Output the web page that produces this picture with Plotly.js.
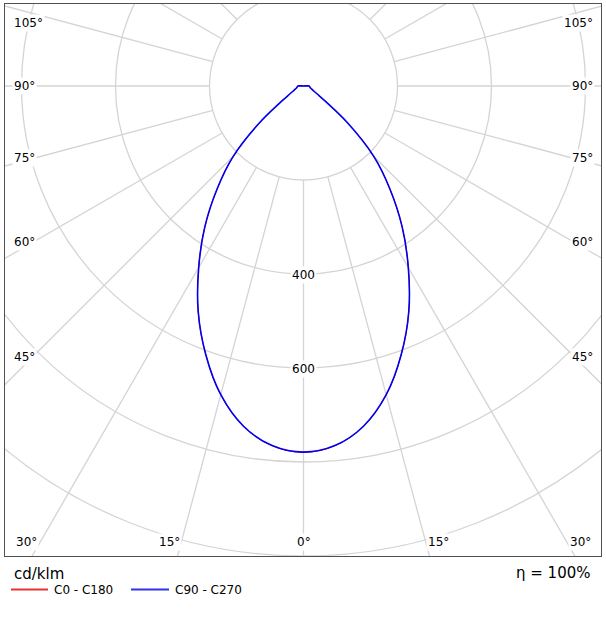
<!DOCTYPE html>
<html>
<head>
<meta charset="utf-8">
<script src="https://cdn.plot.ly/plotly-3.0.1.min.js"></script>
<style>
  html, body { margin: 0; padding: 0; background: #ffffff; }
  #chart { width: 606px; height: 621px; }
</style>
</head>
<body>
<div id="chart"></div>
<script>
// ---- data (cd/klm), gamma angles in degrees ----
const gammaAngles = [0, 5, 10, 15, 20, 25, 30, 35, 40, 45, 50, 55, 60, 65, 70, 75, 80, 85, 90, 95];
const c0c180  = [779, 768, 735, 680, 608, 530, 446, 366, 286, 211, 124, 58, 33, 23, 18, 15, 14, 13, 12, 0];
const c90c270 = [779, 768, 735, 680, 608, 530, 446, 366, 286, 211, 124, 58, 33, 23, 18, 15, 14, 13, 12, 0];
const radialTicks = [200, 400, 600, 800, 1000];
const radialLabels = ['400', '600'];
const sideAngleLabels = ['105°', '90°', '75°', '60°', '45°'];
const bottomAngleLabels = ['30°', '15°', '0°', '15°', '30°'];
const seriesNames = ['C0 - C180', 'C90 - C270'];
const unitLabel = 'cd/klm';
const efficiencyLabel = 'η = 100%';

// ---- geometry of the figure ----
const W = 606, H = 621;
const M = {l: 5, r: 5, t: 4, b: 65};
const plotW = W - M.l - M.r, plotH = H - M.t - M.b;
const cx = 303.5, cy = 86;        // pixel position of the polar origin
const k = 0.47;                  // px per cd/klm
const xr = [-(cx - M.l) / k, (W - M.r - cx) / k];
const yr = [-(M.t + plotH - cy) / k, (cy - M.t) / k];
const deg = Math.PI / 180;

function polarCurve(vals) {
  const xs = [], ys = [];
  for (let i = gammaAngles.length - 1; i >= 0; i--) {
    const t = -gammaAngles[i] * deg;
    xs.push(vals[i] * Math.sin(t)); ys.push(-vals[i] * Math.cos(t));
  }
  for (let i = 1; i < gammaAngles.length; i++) {
    const t = gammaAngles[i] * deg;
    xs.push(vals[i] * Math.sin(t)); ys.push(-vals[i] * Math.cos(t));
  }
  return {xs, ys};
}

const red = polarCurve(c0c180);
const blue = polarCurve(c90c270);

const traces = [
  {x: red.xs, y: red.ys, type: 'scatter', mode: 'lines', name: seriesNames[0],
   line: {color: '#ff0000', width: 1, shape: 'spline', smoothing: 1.1}, hoverinfo: 'skip', showlegend: false},
  {x: blue.xs, y: blue.ys, type: 'scatter', mode: 'lines', name: seriesNames[1],
   line: {color: '#0000f0', width: 1.6, shape: 'spline', smoothing: 1.1}, hoverinfo: 'skip', showlegend: false}
];

const gridColor = '#d4d4d4';
const shapes = [];
radialTicks.forEach(r => {
  shapes.push({type: 'circle', xref: 'x', yref: 'y', x0: -r, y0: -r, x1: r, y1: r,
               line: {color: gridColor, width: 1.3}, layer: 'below'});
});
for (let a = -180; a <= 180; a += 15) {
  const t = a * deg, r0 = radialTicks[0], r1 = 1500;
  shapes.push({type: 'line', xref: 'x', yref: 'y',
               x0: r0 * Math.sin(t), y0: -r0 * Math.cos(t),
               x1: r1 * Math.sin(t), y1: -r1 * Math.cos(t),
               line: {color: gridColor, width: 1.3}, layer: 'below'});
}

// pixel -> paper helpers (for text placement)
const px = x => (x - M.l) / plotW;
const py = y => (M.t + plotH - y) / plotH;

// legend lines
shapes.push({type: 'line', xref: 'paper', yref: 'paper', x0: px(11), x1: px(48), y0: py(589.5), y1: py(589.5),
             line: {color: '#e83232', width: 2}});
shapes.push({type: 'line', xref: 'paper', yref: 'paper', x0: px(131), x1: px(169), y0: py(589.5), y1: py(589.5),
             line: {color: '#3232e8', width: 2}});

const font12 = {family: 'DejaVu Sans, sans-serif', size: 12, color: '#000000'};
const annotations = [];
// radial value labels on the 0° ray
radialLabels.forEach(lbl => {
  annotations.push({x: 0, y: -Number(lbl), xref: 'x', yref: 'y', yshift: -1, text: lbl, showarrow: false,
                    font: font12, bgcolor: '#ffffff', borderpad: 1, xanchor: 'center', yanchor: 'middle'});
});
// side angle labels
const sideY = [22.7, 86, 158.3, 241.7, 356.7];
sideAngleLabels.forEach((lbl, i) => {
  annotations.push({x: px(12), y: py(sideY[i]), xref: 'paper', yref: 'paper', text: lbl, showarrow: false,
                    font: font12, bgcolor: '#ffffff', borderpad: 1, xanchor: 'left', yanchor: 'middle'});
  annotations.push({x: px(595), y: py(sideY[i]), xref: 'paper', yref: 'paper', text: lbl, showarrow: false,
                    font: font12, bgcolor: '#ffffff', borderpad: 1, xanchor: 'right', yanchor: 'middle'});
});
// bottom angle labels
const bottomX = [26, 169, 303.5, 438, 580];
bottomAngleLabels.forEach((lbl, i) => {
  annotations.push({x: px(bottomX[i]), y: py(541.5), xref: 'paper', yref: 'paper', text: lbl, showarrow: false,
                    font: font12, bgcolor: '#ffffff', borderpad: 1, xanchor: 'center', yanchor: 'middle'});
});
// unit and efficiency
annotations.push({x: px(12), y: py(574), xref: 'paper', yref: 'paper', text: unitLabel, showarrow: false,
                  font: {family: 'DejaVu Sans, sans-serif', size: 15, color: '#000'}, xanchor: 'left', yanchor: 'middle'});
annotations.push({x: px(593), y: py(573), xref: 'paper', yref: 'paper', text: efficiencyLabel, showarrow: false,
                  font: {family: 'DejaVu Sans, sans-serif', size: 15, color: '#000'}, xanchor: 'right', yanchor: 'middle'});
// legend texts
annotations.push({x: px(52), y: py(590), xref: 'paper', yref: 'paper', text: seriesNames[0], showarrow: false,
                  font: font12, xanchor: 'left', yanchor: 'middle'});
annotations.push({x: px(173), y: py(590), xref: 'paper', yref: 'paper', text: seriesNames[1], showarrow: false,
                  font: font12, xanchor: 'left', yanchor: 'middle'});

const axisCommon = {showgrid: false, zeroline: false, showticklabels: false, ticks: '',
                    showline: true, mirror: true, linecolor: '#505050', linewidth: 1, fixedrange: true};

const layout = {
  width: W, height: H,
  margin: M,
  paper_bgcolor: '#ffffff', plot_bgcolor: '#ffffff',
  xaxis: Object.assign({range: xr}, axisCommon),
  yaxis: Object.assign({range: yr}, axisCommon),
  shapes: shapes,
  annotations: annotations,
  showlegend: false
};

Plotly.newPlot('chart', traces, layout, {staticPlot: true, displayModeBar: false});
</script>
</body>
</html>
